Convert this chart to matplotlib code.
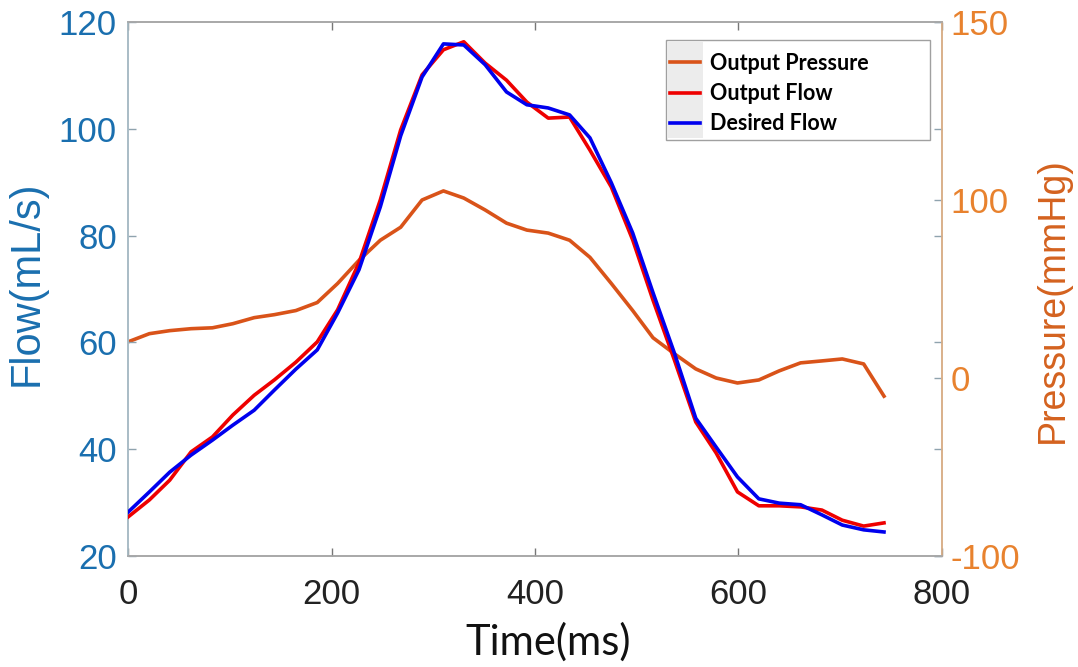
import matplotlib
matplotlib.use('Agg')
import matplotlib.pyplot as plt
from matplotlib.patches import Rectangle

# time samples (ms)
t = [0, 21, 41, 62, 83, 103, 124, 144, 165, 186, 206, 227, 248, 268, 289, 310, 330, 351, 372,
     392, 413, 434, 454, 475, 496, 516, 537, 558, 578, 599, 620, 640, 661, 682, 702, 723, 743]

# desired flow (mL/s)
desired_flow = [28.2, 32.0, 35.7, 38.9, 41.7, 44.5, 47.3, 51.1, 55.0, 58.6, 65.5, 73.6, 85.4,
                98.7, 109.7, 115.9, 115.7, 112.0, 106.9, 104.5, 103.9, 102.6, 98.3, 89.9, 80.5,
                69.3, 58.0, 45.8, 40.4, 34.8, 30.7, 29.9, 29.6, 27.7, 25.8, 24.9, 24.5]

# output flow (mL/s)
output_flow = [27.3, 30.5, 34.2, 39.5, 42.3, 46.4, 50.1, 53.0, 56.3, 60.1, 66.1, 74.9, 86.7,
               99.8, 110.1, 114.8, 116.3, 112.3, 109.1, 105.0, 102.0, 102.2, 96.0, 89.1, 79.2,
               67.9, 56.7, 45.1, 39.3, 32.0, 29.4, 29.4, 29.2, 28.6, 26.7, 25.6, 26.2]

# output pressure (mmHg)
output_pressure = [20.3, 24.9, 26.6, 27.7, 28.2, 30.5, 33.9, 35.6, 37.9, 42.4, 53.1, 66.1, 77.4,
                   84.7, 100.0, 105.1, 101.1, 94.4, 87.0, 83.1, 81.4, 77.4, 67.8, 53.1, 37.9,
                   22.6, 13.6, 5.1, 0.0, -2.8, -1.1, 4.0, 8.5, 9.6, 10.7, 7.9, -10.2]

p_ticks = [-100, 0, 100, 200]
p_ticklabels = ['-100', '0', '100', '150']

blue_lbl = '#1a6faf'
orange_lbl = '#e8822e'
orange_line = '#d95319'

plt.rcParams['font.family'] = ['Liberation Sans', 'DejaVu Sans']

fig = plt.figure(figsize=(10.78, 6.67), dpi=100)
W, H = 1078, 667
ax = fig.add_axes([128/W, 1-556/H, (942-128)/W, (556-22)/H])
ax2 = ax.twinx()

ax.plot(t, output_flow, color='#ee0000', lw=2.6, label='Output Flow', zorder=3)
ax.plot(t, desired_flow, color='#0000ee', lw=2.6, label='Desired Flow', zorder=4)
ax2.plot(t, output_pressure, color=orange_line, lw=2.6, label='Output Pressure')
ax.set_zorder(2)
ax.patch.set_visible(False)

ax.set_xlim(0, 800)
ax.set_ylim(20, 120)
ax.set_xticks([0, 200, 400, 600, 800])
ax.set_yticks([20, 40, 60, 80, 100, 120])
ax2.set_ylim(-100, 200)
ax2.set_yticks(p_ticks)
ax2.set_yticklabels(p_ticklabels)

ax.tick_params(axis='x', direction='in', length=6, width=1, color='#777777', labelsize=25,
               labelcolor='#222222', pad=16, top=True)
ax.tick_params(axis='y', direction='in', length=6, width=1, color='#8fa3ae', labelsize=25,
               labelcolor=blue_lbl, pad=8, right=True)
ax2.tick_params(axis='y', direction='in', length=6, width=1, color='#8fa3ae', labelsize=25,
                labelcolor=orange_lbl, pad=6)

for a in (ax, ax2):
    a.spines['top'].set_color('#a8a8a8')
    a.spines['bottom'].set_color('#a8a8a8')
    a.spines['left'].set_color('#a9bcc6')
    a.spines['right'].set_color('#d9b08a')
    for s in a.spines.values():
        s.set_linewidth(1.2)

ax.set_xlabel('Time(ms)', fontsize=30, family=['Lato', 'DejaVu Sans'], color='#111111')
ax.xaxis.set_label_coords(0.516, -0.125)
ax.set_ylabel('Flow(mL/s)', fontsize=30, color=blue_lbl)
ax.yaxis.set_label_coords(-0.1, 0.51)
ax2.set_ylabel('Pressure(mmHg)', fontsize=27, color='#d4621f')
ax2.yaxis.set_label_coords(1.114, 0.48)

# legend box
fig.patches.append(Rectangle((666/W, 1-140/H), (930-666)/W, 100/H, transform=fig.transFigure,
                             facecolor='white', edgecolor='#a0a0a0', lw=1, zorder=5))
fig.patches.append(Rectangle((667/W, 1-138/H), (703-667)/W, 96/H, transform=fig.transFigure,
                             facecolor='#ececec', edgecolor='none', zorder=5))
h1, l1 = ax.get_legend_handles_labels()
h2, l2 = ax2.get_legend_handles_labels()
leg = fig.legend(h2 + h1, l2 + l1, loc='upper left', bbox_to_anchor=(670/W, 1-53/H),
                 frameon=False, borderpad=0, borderaxespad=0, handlelength=1.4,
                 handletextpad=0.45, labelspacing=0.42,
                 prop={'family': ['Lato', 'DejaVu Sans'], 'weight': 'bold', 'size': 15.5})
leg.set_zorder(6)

fig.savefig('out.png', dpi=100)
